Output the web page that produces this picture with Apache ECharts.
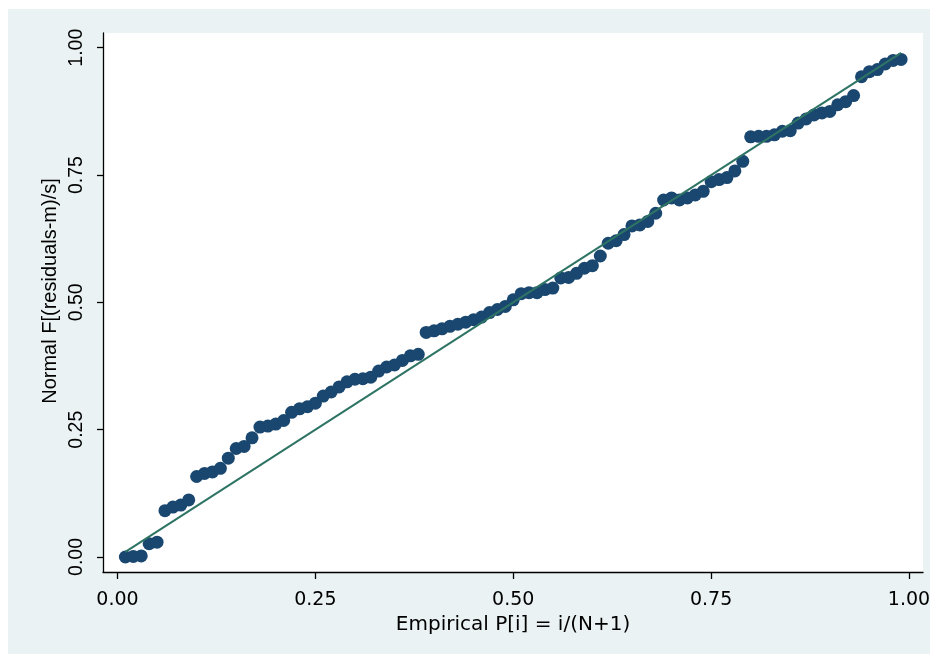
<!DOCTYPE html>
<html><head><meta charset="utf-8">
<script src="https://cdn.jsdelivr.net/npm/echarts@6/dist/echarts.min.js"></script>
<style>
html,body{margin:0;padding:0;background:#fff}
#wrap{position:relative;width:936px;height:654px;background:#fff}
#bg{position:absolute;left:8px;top:9px;width:922px;height:645px;background:#EAF2F3}
#c{position:absolute;left:0;top:0;width:936px;height:654px}
</style>
</head><body>
<div id="wrap"><div id="bg"></div><div id="c"></div></div>
<script>
// Empirical P[i] = i/(N+1), N = 99
const empiricalP = [
 0.01,0.02,0.03,0.04,0.05,0.06,0.07,0.08,0.09,0.10,
 0.11,0.12,0.13,0.14,0.15,0.16,0.17,0.18,0.19,0.20,
 0.21,0.22,0.23,0.24,0.25,0.26,0.27,0.28,0.29,0.30,
 0.31,0.32,0.33,0.34,0.35,0.36,0.37,0.38,0.39,0.40,
 0.41,0.42,0.43,0.44,0.45,0.46,0.47,0.48,0.49,0.50,
 0.51,0.52,0.53,0.54,0.55,0.56,0.57,0.58,0.59,0.60,
 0.61,0.62,0.63,0.64,0.65,0.66,0.67,0.68,0.69,0.70,
 0.71,0.72,0.73,0.74,0.75,0.76,0.77,0.78,0.79,0.80,
 0.81,0.82,0.83,0.84,0.85,0.86,0.87,0.88,0.89,0.90,
 0.91,0.92,0.93,0.94,0.95,0.96,0.97,0.98,0.99];
// Normal F[(residuals-m)/s]
const normalF = [
 0.000,0.001,0.002,0.026,0.029,0.091,0.098,0.102,0.112,0.158,
 0.164,0.167,0.174,0.194,0.213,0.217,0.234,0.255,0.257,0.261,
 0.268,0.284,0.291,0.295,0.302,0.316,0.324,0.334,0.344,0.349,
 0.350,0.353,0.365,0.373,0.377,0.386,0.395,0.398,0.441,0.444,
 0.448,0.453,0.457,0.461,0.466,0.471,0.480,0.486,0.492,0.505,
 0.517,0.519,0.519,0.525,0.528,0.548,0.549,0.557,0.567,0.572,
 0.591,0.616,0.621,0.633,0.650,0.652,0.659,0.675,0.701,0.705,
 0.701,0.705,0.711,0.718,0.737,0.741,0.745,0.758,0.777,0.825,
 0.826,0.826,0.829,0.836,0.837,0.852,0.860,0.868,0.872,0.875,
 0.888,0.894,0.906,0.943,0.953,0.957,0.968,0.975,0.977];
// reference line y = x over the data range
const refLineX = [0.01, 0.99];
const refLineY = [0.01, 0.99];
const xTickValues = [0, 0.25, 0.5, 0.75, 1];
const yTickValues = [0, 0.25, 0.5, 0.75, 1];
const xTitle = 'Empirical P[i] = i/(N+1)';
const yTitle = 'Normal F[(residuals-m)/s]';

const scatterData = empiricalP.map((x, i) => [x, normalF[i]]);
const lineData = refLineX.map((x, i) => [x, refLineY[i]]);

const chart = echarts.init(document.getElementById('c'), null, {renderer: 'canvas'});
chart.setOption({
  animation: false,
  backgroundColor: 'transparent',
  grid: {left: 103, right: 13, top: 33, bottom: 82, show: true, backgroundColor: '#fff', borderWidth: 0},
  xAxis: {
    type: 'value', min: -0.0183, max: 1.0177,
    axisLine: {show: true, onZero: false, lineStyle: {color: '#000', width: 1.3}},
    axisTick: {show: true, length: 7, customValues: xTickValues, lineStyle: {color: '#000', width: 1.3}},
    axisLabel: {customValues: xTickValues, formatter: v => v.toFixed(2), fontFamily: 'DejaVu Sans', fontSize: 19, color: '#000', margin: 19},
    splitLine: {show: false},
    name: xTitle, nameLocation: 'middle', nameGap: 28,
    nameTextStyle: {fontFamily: 'DejaVu Sans', fontSize: 20, color: '#000'}
  },
  yAxis: {
    type: 'value', min: -0.0295, max: 1.0289,
    axisLine: {show: true, onZero: false, lineStyle: {color: '#000', width: 1.3}},
    axisTick: {show: true, length: 6, customValues: yTickValues, lineStyle: {color: '#000', width: 1.3}},
    axisLabel: {customValues: yTickValues, formatter: v => v.toFixed(2), rotate: 90, fontFamily: 'Liberation Sans', fontSize: 19.5, color: '#000', margin: 16},
    splitLine: {show: false}
  },
  graphic: [{
    type: 'text', x: 50, y: 291, rotation: Math.PI / 2,
    style: {text: yTitle, font: '20px "Liberation Sans"', fill: '#000', align: 'center', verticalAlign: 'middle'}
  }],
  series: [
    {type: 'scatter', data: scatterData, symbolSize: 13, itemStyle: {color: '#1A476F', opacity: 1}, z: 2},
    {type: 'line', data: lineData, showSymbol: false, lineStyle: {color: '#2E7464', width: 2}, z: 3, silent: true}
  ]
});
</script>
</body></html>
